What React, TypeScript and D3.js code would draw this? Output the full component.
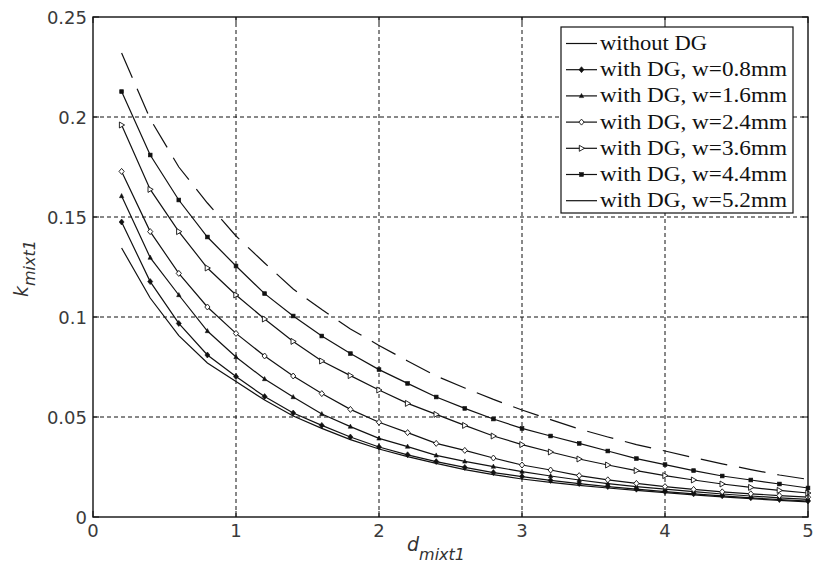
import React from 'react';
import * as d3 from 'd3';

const dValues = [0.2, 0.4, 0.6, 0.8, 1.0, 1.2, 1.4, 1.6, 1.8, 2.0, 2.2, 2.4, 2.6, 2.8, 3.0, 3.2, 3.4, 3.6, 3.8, 4.0, 4.2, 4.4, 4.6, 4.8, 5.0];

const kWithoutDG = [0.1345, 0.1095, 0.0907, 0.0770, 0.0677, 0.0585, 0.0505, 0.0443, 0.0387, 0.0340, 0.0302, 0.0268, 0.0237, 0.0212, 0.0190, 0.0173, 0.0158, 0.0145, 0.0133, 0.0122, 0.0111, 0.0101, 0.0092, 0.0083, 0.0076];
const kW08 = [0.1475, 0.1177, 0.0968, 0.0810, 0.0702, 0.0602, 0.0520, 0.0458, 0.0400, 0.0350, 0.0311, 0.0277, 0.0248, 0.0222, 0.0202, 0.0183, 0.0167, 0.0152, 0.0139, 0.0127, 0.0116, 0.0106, 0.0096, 0.0087, 0.0080];
const kW16 = [0.1605, 0.1297, 0.1110, 0.0930, 0.0800, 0.0690, 0.0600, 0.0515, 0.0452, 0.0393, 0.0352, 0.0308, 0.0278, 0.0252, 0.0227, 0.0205, 0.0185, 0.0167, 0.0152, 0.0139, 0.0127, 0.0115, 0.0105, 0.0096, 0.0088];
const kW24 = [0.1728, 0.1427, 0.1218, 0.1050, 0.0918, 0.0805, 0.0705, 0.0617, 0.0538, 0.0474, 0.0422, 0.0368, 0.0333, 0.0295, 0.0260, 0.0235, 0.0207, 0.0186, 0.0168, 0.0152, 0.0138, 0.0126, 0.0116, 0.0107, 0.0099];
const kW36 = [0.1960, 0.1638, 0.1427, 0.1245, 0.1110, 0.0990, 0.0878, 0.0780, 0.0707, 0.0635, 0.0568, 0.0513, 0.0458, 0.0405, 0.0362, 0.0325, 0.0290, 0.0260, 0.0232, 0.0207, 0.0185, 0.0165, 0.0148, 0.0133, 0.0120];
const kW44 = [0.2127, 0.1810, 0.1585, 0.1400, 0.1255, 0.1117, 0.1005, 0.0905, 0.0817, 0.0737, 0.0668, 0.0600, 0.0543, 0.0490, 0.0443, 0.0405, 0.0368, 0.0330, 0.0292, 0.0262, 0.0232, 0.0205, 0.0185, 0.0165, 0.0145];
const kW52 = [0.2320, 0.1990, 0.1750, 0.1570, 0.1405, 0.1270, 0.1140, 0.1037, 0.0940, 0.0858, 0.0780, 0.0705, 0.0645, 0.0588, 0.0535, 0.0487, 0.0440, 0.0400, 0.0362, 0.0330, 0.0297, 0.0266, 0.0237, 0.0210, 0.0188];

const seriesLabels = ['without DG', 'with DG, w=0.8mm', 'with DG, w=1.6mm', 'with DG, w=2.4mm', 'with DG, w=3.6mm', 'with DG, w=4.4mm', 'with DG, w=5.2mm'];
const seriesMarkers = ['none', 'diamondFilled', 'triUp', 'diamondOpen', 'triRight', 'square', 'none'];
const seriesDashed = [false, false, false, false, false, false, true];
const seriesValues = [kWithoutDG, kW08, kW16, kW24, kW36, kW44, kW52];

const xTicks = [0, 1, 2, 3, 4, 5];
const xTickLabels = ['0', '1', '2', '3', '4', '5'];
const yTicks = [0, 0.05, 0.1, 0.15, 0.2, 0.25];
const yTickLabels = ['0', '0.05', '0.1', '0.15', '0.2', '0.25'];

const W = 817;
const H = 575;
const L = 93, R = 808, T = 17, B = 517;
const INK = '#111';

function Marker({ type, x, y }: { type: string; x: number; y: number }) {
  if (type === 'diamondFilled') {
    return <path d={`M${x},${y - 3}L${x + 2.5},${y}L${x},${y + 3}L${x - 2.5},${y}Z`} fill={INK} stroke={INK} strokeWidth={0.6} />;
  }
  if (type === 'triUp') {
    return <path d={`M${x},${y - 2.5}L${x + 2.2},${y + 1.7}L${x - 2.2},${y + 1.7}Z`} fill={INK} stroke={INK} strokeWidth={0.5} />;
  }
  if (type === 'diamondOpen') {
    return <path d={`M${x},${y - 3}L${x + 2.6},${y}L${x},${y + 3}L${x - 2.6},${y}Z`} fill="#fff" stroke={INK} strokeWidth={0.9} />;
  }
  if (type === 'triRight') {
    return <path d={`M${x - 2.2},${y - 3}L${x + 3},${y}L${x - 2.2},${y + 3}Z`} fill="#fff" stroke={INK} strokeWidth={0.9} />;
  }
  if (type === 'square') {
    return <rect x={x - 1.9} y={y - 1.9} width={3.8} height={3.8} fill={INK} stroke={INK} strokeWidth={0.6} />;
  }
  return null;
}

export default function App() {
  const x = d3.scaleLinear().domain([0, 5]).range([L, R]);
  const y = d3.scaleLinear().domain([0, 0.25]).range([B, T]);
  const line = d3.line<[number, number]>().x(d => x(d[0])).y(d => y(d[1]));

  const legendX0 = 561, legendY0 = 27, legendW = 232, legendH = 186;
  const rowY = (i: number) => 43.5 + i * 26.2;
  const textLengths = [107, 187, 187, 187, 187, 187, 187];

  return (
    <svg width={W} height={H} style={{ position: 'absolute', left: 0, top: 0, background: '#fff' }}>
      <rect x={0} y={0} width={W} height={H} fill="#fff" />
      {xTicks.slice(1, -1).map(t => (
        <line key={'gx' + t} x1={x(t)} x2={x(t)} y1={B} y2={T} stroke={INK} strokeWidth={1} strokeDasharray="4,3" />
      ))}
      {yTicks.slice(1, -1).map(t => (
        <line key={'gy' + t} x1={L} x2={R} y1={y(t)} y2={y(t)} stroke={INK} strokeWidth={1} strokeDasharray="4,3" />
      ))}
      {seriesValues.map((vals, i) => {
        const pts: [number, number][] = dValues.map((d, j) => [d, vals[j]]);
        return (
          <g key={'s' + i}>
            <path d={line(pts) || ''} fill="none" stroke={INK} strokeWidth={1.2}
              strokeDasharray={seriesDashed[i] ? '27,12' : undefined} />
            {seriesMarkers[i] !== 'none' && pts.map((p, j) => (
              <Marker key={j} type={seriesMarkers[i]} x={x(p[0])} y={y(p[1])} />
            ))}
          </g>
        );
      })}
      <rect x={L} y={T} width={R - L} height={B - T} fill="none" stroke={INK} strokeWidth={1.4} />
      {xTicks.map(t => (
        <g key={'tx' + t}>
          <line x1={x(t)} x2={x(t)} y1={B} y2={B - 6} stroke={INK} strokeWidth={1} />
          <line x1={x(t)} x2={x(t)} y1={T} y2={T + 6} stroke={INK} strokeWidth={1} />
        </g>
      ))}
      {yTicks.map(t => (
        <g key={'ty' + t}>
          <line x1={L} x2={L + 6} y1={y(t)} y2={y(t)} stroke={INK} strokeWidth={1} />
          <line x1={R} x2={R - 6} y1={y(t)} y2={y(t)} stroke={INK} strokeWidth={1} />
        </g>
      ))}
      {xTicks.map((t, i) => (
        <text key={'lx' + t} x={x(t)} y={537} textAnchor="middle" fontFamily="DejaVu Sans" fontSize={18} fill="#3a3a3a">{xTickLabels[i]}</text>
      ))}
      {yTicks.map((t, i) => (
        <text key={'ly' + t} x={87} y={y(t) + 6.5} textAnchor="end" fontFamily="DejaVu Sans" fontSize={18} fill="#3a3a3a">{yTickLabels[i]}</text>
      ))}
      <text x={407} y={551} fontFamily="DejaVu Sans" fontStyle="italic" fontSize={19} fill="#333">
        d<tspan fontSize={16} dy={9}>mixt1</tspan>
      </text>
      <text transform="translate(28,297) rotate(-90)" fontFamily="DejaVu Sans" fontStyle="italic" fontSize={19} fill="#333">
        k<tspan fontSize={16} dy={7}>mixt1</tspan>
      </text>
      <rect x={legendX0} y={legendY0} width={legendW} height={legendH} fill="#fff" stroke={INK} strokeWidth={1.2} />
      {seriesLabels.map((lab, i) => (
        <g key={'lg' + i}>
          <line x1={566} x2={597} y1={rowY(i)} y2={rowY(i)} stroke={INK} strokeWidth={1.2} />
          <Marker type={seriesMarkers[i]} x={581.5} y={rowY(i)} />
          <text x={600} y={rowY(i) + 6.5} fontFamily="Liberation Serif" fontSize={20} fill={INK}
            textLength={textLengths[i]} lengthAdjust="spacingAndGlyphs">{lab}</text>
        </g>
      ))}
    </svg>
  );
}
